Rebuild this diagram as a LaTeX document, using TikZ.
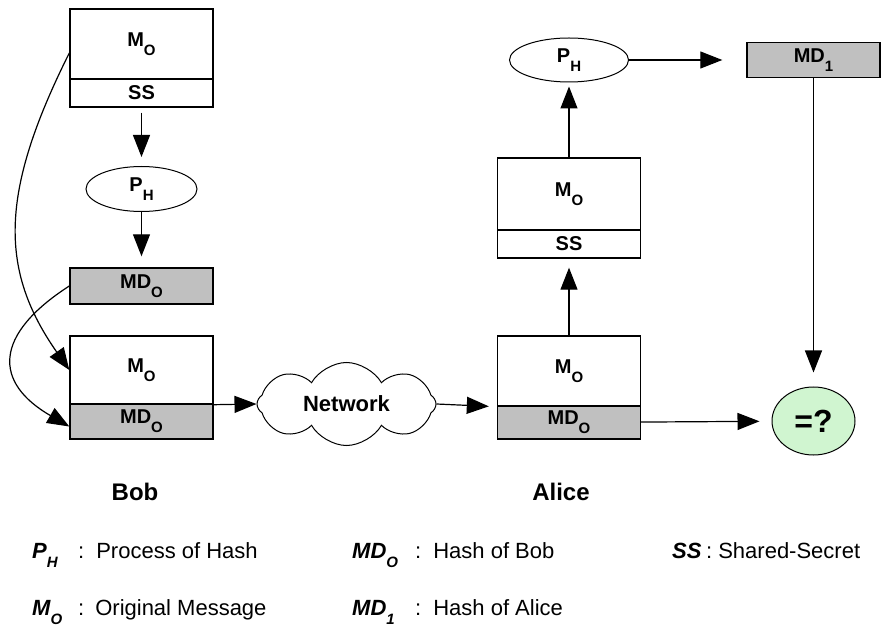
\documentclass[tikz,border=0pt]{standalone}
\usepackage{fontspec}
\setmainfont{Liberation Sans}
\usetikzlibrary{arrows.meta,shapes.geometric,shapes.symbols}
\definecolor{mdgray}{RGB}{192,192,192}
\definecolor{eqgreen}{RGB}{208,245,208}
\newcommand{\lowsub}[1]{\raisebox{-0.85ex}{\fontsize{15}{15}\selectfont #1}}
\newcommand{\boxfont}{\fontsize{20}{22}\selectfont\bfseries}

\begin{document}
\begin{tikzpicture}[x=1pt,y=-1pt,
   part/.style={rectangle,draw,line width=1.4pt,minimum width=143pt,inner sep=0pt,font=\boxfont},
   grey/.style={part,fill=mdgray},
   hash/.style={ellipse,draw,line width=1pt,minimum width=111pt,minimum height=45pt,inner sep=0pt,font=\boxfont},
   arr/.style={-{Triangle[length=22pt,width=17pt]},line width=1.2pt},
   who/.style={anchor=base,font=\fontsize{24}{26}\selectfont\bfseries},
   key/.style={anchor=base west,inner sep=0pt,font=\fontsize{22}{24}\selectfont\bfseries\itshape},
   keytext/.style={anchor=base west,inner sep=0pt,font=\fontsize{22}{24}\selectfont}]
\useasboundingbox (0,0) rectangle (881,628);
% Bob
       \node [part,minimum height=70pt] at (141.5,44) (bobmsg) {M\lowsub{O}};
       \node [part,minimum height=28pt] at (141.5,93) (bobss) {SS};
       \node [hash] at (141.5,189) (bobph) {P\lowsub{H}};
       \node [grey,minimum height=36pt] at (141.5,286) (bobmd) {MD\lowsub{O}};
       \node [part,minimum height=68pt] at (141.5,370) (bobm) {M\lowsub{O}};
       \node [grey,minimum height=35pt] at (141.5,421.5) (bobmdo) {MD\lowsub{O}};
%
       \node [cloud,draw,line width=1pt,cloud puffs=8,cloud puff arc=120,aspect=2.2,
              minimum width=179pt,minimum height=83pt,inner sep=0pt,
              font=\fontsize{22}{24}\selectfont\bfseries] at (346.5,404) (net) {Network};
% Alice
       \node [part,minimum height=70pt] at (569,371) (alicem) {M\lowsub{O}};
       \node [grey,minimum height=33pt] at (569,422.5) (alicemdo) {MD\lowsub{O}};
       \node [part,minimum height=72pt] at (569,194) (alicemsg) {M\lowsub{O}};
       \node [part,minimum height=28pt] at (569,244) (alicess) {SS};
       \node [hash,minimum width=119pt,minimum height=44pt] at (569,60) (aliceph) {P\lowsub{H}};
       \node [grey,minimum width=133pt,minimum height=35pt] at (813.5,60) (alicemd) {MD\lowsub{1}};
       \node [ellipse,draw,line width=1pt,fill=eqgreen,minimum width=83pt,minimum height=68pt,
              inner sep=0pt,font=\fontsize{32}{34}\selectfont\bfseries] at (813.5,421) (equal) {=?};
%
       \node [who] at (135,500) (bob) {Bob};
       \node [who] at (561,500) (alice) {Alice};
% legend
       \node [key] at (32,558) (lph) {P\lowsub{H}};
       \node [keytext] at (78,558) (lphtext) {:\hspace{12pt}Process of Hash};
       \node [key] at (352,558) (lmdo) {MD\lowsub{O}};
       \node [keytext] at (415,558) (lmdotext) {:\hspace{12pt}Hash of Bob};
       \node [key] at (672,558) (lss) {SS};
       \node [keytext] at (706,558) (lsstext) {:\hspace{6pt}Shared-Secret};
       \node [key] at (32,615) (lmo) {M\lowsub{O}};
       \node [keytext] at (78,615) (lmotext) {:\hspace{11pt}Original Message};
       \node [key] at (352,615) (lmdi) {MD\lowsub{1}};
       \node [keytext] at (415,615) (lmditext) {:\hspace{12pt}Hash of Alice};
%
\path[arr,shorten <=5pt,shorten >=9pt] (bobss) edge (bobph);
\path[arr,shorten >=11pt] (bobph) edge (bobmd);
\draw[arr] ([yshift=-9pt]bobmsg.west) .. controls +(-70,140) and +(-70,-100) .. (bobm.west);
\draw[arr] (bobmd.west) .. controls +(-76,49) and +(-76,-44) .. ([yshift=-5pt]bobmdo.west);
\path[arr] (bobm.south east) edge (net.west);
\path[arr,shorten >=8pt] (net.east) edge (alicem.south west);
\path[arr,shorten >=9pt] (alicem) edge (alicess);
\path[arr,shorten >=4pt] (alicemsg) edge (aliceph);
\path[arr,shorten >=24pt] (aliceph) edge (alicemd);
\path[arr,shorten >=14pt] (alicemd) edge (equal);
\path[arr,shorten >=12pt] (alicemdo) edge (equal);

\end{tikzpicture}
\end{document}
